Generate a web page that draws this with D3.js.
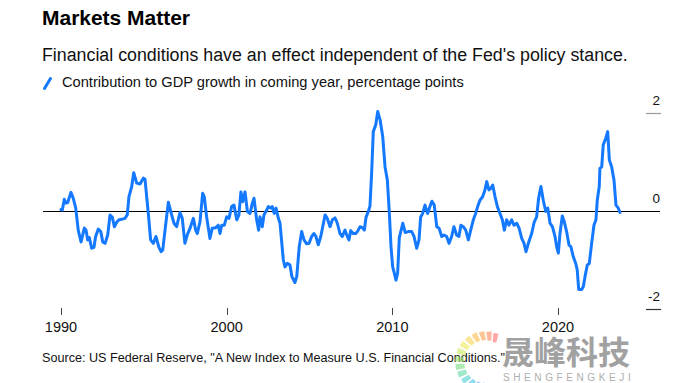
<!DOCTYPE html>
<html>
<head>
<meta charset="utf-8">
<script src="https://cdn.jsdelivr.net/npm/d3@7"></script>
<style>
  html, body { margin: 0; padding: 0; background: #fff; }
  svg { display: block; }
  text { font-family: "Liberation Sans", Arial, Helvetica, sans-serif; }
</style>
</head>
<body>
<svg id="chart" width="694" height="383"></svg>
<script>
// ---- Data ----
const years = [
  1990.00,1990.08,1990.20,1990.30,1990.40,1990.60,1990.74,1990.89,1991.04,1991.21,
  1991.41,1991.51,1991.61,1991.71,1991.85,1991.99,1992.09,1992.25,1992.40,1992.52,
  1992.66,1992.82,1992.96,1993.10,1993.22,1993.38,1993.50,1993.66,1993.86,1994.00,
  1994.10,1994.27,1994.39,1994.57,1994.77,1994.97,1995.07,1995.27,1995.41,1995.57,
  1995.73,1995.90,1996.04,1996.14,1996.28,1996.48,1996.68,1996.82,1996.98,1997.18,
  1997.32,1997.48,1997.62,1997.79,1997.99,1998.13,1998.23,1998.39,1998.55,1998.65,
  1998.79,1998.99,1999.13,1999.34,1999.49,1999.60,1999.70,1999.86,2000.00,2000.14,
  2000.30,2000.44,2000.61,2000.74,2000.86,2000.97,2001.11,2001.25,2001.41,2001.55,
  2001.65,2001.81,2001.93,2002.01,2002.15,2002.25,2002.42,2002.51,2002.66,2002.75,
  2002.87,2002.98,2003.12,2003.22,2003.42,2003.52,2003.66,2003.82,2003.94,2004.12,
  2004.23,2004.38,2004.53,2004.67,2004.83,2004.97,2005.13,2005.27,2005.39,2005.53,
  2005.68,2005.80,2005.94,2006.07,2006.24,2006.38,2006.54,2006.68,2006.84,2006.98,
  2007.14,2007.25,2007.38,2007.49,2007.64,2007.79,2007.91,2008.05,2008.19,2008.31,
  2008.41,2008.55,2008.65,2008.75,2008.85,2009.00,2009.12,2009.26,2009.42,2009.56,
  2009.70,2009.82,2009.92,2010.02,2010.12,2010.22,2010.32,2010.42,2010.63,2010.78,
  2010.96,2011.17,2011.31,2011.47,2011.61,2011.71,2011.83,2011.97,2012.13,2012.27,
  2012.39,2012.53,2012.68,2012.82,2012.98,2013.12,2013.28,2013.42,2013.58,2013.72,
  2013.88,2014.02,2014.14,2014.28,2014.43,2014.59,2014.73,2014.89,2015.03,2015.15,
  2015.29,2015.45,2015.59,2015.70,2015.83,2015.94,2016.06,2016.20,2016.34,2016.50,
  2016.64,2016.76,2016.90,2017.04,2017.20,2017.34,2017.51,2017.65,2017.81,2017.95,
  2018.07,2018.21,2018.41,2018.57,2018.71,2018.83,2018.97,2019.11,2019.26,2019.38,
  2019.52,2019.66,2019.82,2019.92,2020.02,2020.12,2020.26,2020.38,2020.52,2020.66,
  2020.78,2020.92,2021.07,2021.16,2021.25,2021.43,2021.53,2021.63,2021.77,2021.89,
  2022.03,2022.17,2022.29,2022.37,2022.49,2022.53,2022.64,2022.73,2022.88,2023.00,
  2023.10,2023.24,2023.38,2023.50,2023.64,2023.74
];
const values = [
  0.03,0.02,0.24,0.16,0.17,0.38,0.26,0.06,-0.39,-0.63,
  -0.35,-0.39,-0.59,-0.54,-0.76,-0.74,-0.52,-0.37,-0.42,-0.63,
  -0.66,-0.49,-0.08,-0.13,-0.32,-0.22,-0.18,-0.17,-0.15,-0.08,
  0.29,0.50,0.78,0.57,0.55,0.67,0.65,-0.05,-0.59,-0.66,
  -0.52,-0.73,-0.83,-0.80,-0.39,0.18,-0.08,-0.25,-0.32,-0.03,
  -0.15,-0.66,-0.49,-0.35,-0.15,-0.39,-0.46,-0.22,0.36,0.29,
  -0.12,-0.56,-0.35,-0.34,-0.29,-0.46,-0.29,-0.29,-0.12,-0.15,
  0.09,0.12,-0.18,-0.08,0.39,0.19,0.39,-0.01,-0.05,0.16,
  0.26,-0.18,-0.39,-0.12,-0.32,-0.08,0.02,0.09,0.06,0.09,
  -0.05,0.06,-0.15,-0.25,-1.00,-1.14,-1.07,-1.10,-1.34,-1.46,
  -1.34,-0.73,-0.42,-0.59,-0.67,-0.66,-0.52,-0.46,-0.52,-0.69,
  -0.52,-0.32,-0.08,-0.15,-0.32,-0.18,-0.14,-0.25,-0.46,-0.52,
  -0.39,-0.49,-0.59,-0.40,-0.46,-0.46,-0.41,-0.32,-0.34,-0.39,
  -0.13,-0.01,0.10,0.77,1.62,1.76,2.03,1.86,1.52,0.90,
  0.63,-0.05,-0.73,-1.14,-1.27,-1.41,-1.27,-0.55,-0.25,-0.44,
  -0.42,-0.42,-0.52,-0.76,-0.59,-0.12,-0.05,0.12,-0.05,0.09,
  0.20,0.12,-0.32,-0.35,-0.52,-0.49,-0.52,-0.66,-0.52,-0.32,
  -0.49,-0.52,-0.29,-0.32,-0.39,-0.59,-0.39,-0.18,-0.05,0.09,
  0.22,0.29,0.43,0.60,0.43,0.46,0.53,0.29,0.09,-0.05,
  -0.18,-0.39,-0.18,-0.29,-0.18,-0.29,-0.25,-0.35,-0.56,-0.66,
  -0.83,-0.66,-0.46,-0.22,-0.12,0.26,0.50,0.22,-0.01,0.06,
  -0.25,-0.32,-0.52,-0.73,-0.86,-0.46,-0.10,-0.22,-0.42,-0.69,
  -0.73,-0.93,-1.07,-1.20,-1.60,-1.60,-1.54,-1.34,-1.10,-1.07,
  -0.66,-0.29,-0.18,0.22,0.50,0.87,0.90,1.35,1.48,1.62,
  1.04,0.90,0.63,0.12,0.06,-0.03
];
const xTickYears = [1990, 2000, 2010, 2020];
const xTickLabels = ["1990", "2000", "2010", "2020"];
const yTickValues = [2, 0, -2];
const yTickLabels = ["2", "0", "-2"];

const titleText = "Markets Matter";
const subtitleText = "Financial conditions have an effect independent of the Fed's policy stance.";
const legendText = "Contribution to GDP growth in coming year, percentage points";
const sourceText = "Source: US Federal Reserve, \"A New Index to Measure U.S. Financial Conditions.\"";

// ---- Drawing ----
const svg = d3.select("#chart");
const BLUE = "#1479ff";

const x = d3.scaleLinear().domain([1990, 2020]).range([61, 558]);
const y = d3.scaleLinear().domain([-2, 2]).range([309, 113]);

function fitText(sel, targetWidth, startSize) {
  let size = startSize;
  sel.style("font-size", size + "px");
  for (let i = 0; i < 4; i++) {
    const w = sel.node().getComputedTextLength();
    if (w > 0) { size = size * targetWidth / w; sel.style("font-size", size + "px"); }
  }
}

// Header
const title = svg.append("text").attr("x", 42).attr("y", 25)
  .attr("font-weight", "bold").attr("fill", "#000").text(titleText);
fitText(title, 148, 20);

const sub = svg.append("text").attr("x", 42).attr("y", 61)
  .attr("fill", "#111").text(subtitleText);
fitText(sub, 586, 17);

svg.append("line").attr("x1", 44.5).attr("y1", 88.5).attr("x2", 50.5).attr("y2", 78.5)
  .attr("stroke", BLUE).attr("stroke-width", 3).attr("stroke-linecap", "round");
const leg = svg.append("text").attr("x", 62).attr("y", 87)
  .attr("fill", "#111").text(legendText);
fitText(leg, 402, 13.5);

// Zero line
svg.append("line").attr("x1", 43).attr("x2", 660)
  .attr("y1", Math.round(y(0)) + 0.5).attr("y2", Math.round(y(0)) + 0.5)
  .attr("stroke", "#000").attr("stroke-width", 1);

// Right axis ticks & labels
const yt = svg.append("g");
yTickValues.forEach((v, i) => {
  if (v !== 0) {
    yt.append("line").attr("x1", 646).attr("x2", 661)
      .attr("y1", Math.round(y(v)) + 0.5).attr("y2", Math.round(y(v)) + 0.5)
      .attr("stroke", v > 0 ? "#999" : "#333").attr("stroke-width", 1.2);
  }
  yt.append("text").attr("x", 660).attr("y", y(v) - 8)
    .attr("text-anchor", "end").style("font-size", "13.5px").attr("fill", "#111")
    .text(yTickLabels[i]);
});

// Bottom axis ticks & labels
const xt = svg.append("g");
xTickYears.forEach((yr, i) => {
  xt.append("line").attr("x1", Math.round(x(yr)) + 0.5).attr("x2", Math.round(x(yr)) + 0.5)
    .attr("y1", 308).attr("y2", 315).attr("stroke", "#444").attr("stroke-width", 1);
  xt.append("text").attr("x", x(yr)).attr("y", 332)
    .attr("text-anchor", "middle").style("font-size", "14.5px").attr("fill", "#111")
    .text(xTickLabels[i]);
});

// Series line
const pts = years.map((d, i) => [d, values[i]]);
const line = d3.line().x(d => x(d[0])).y(d => y(d[1])).curve(d3.curveLinear);
svg.append("path").datum(pts).attr("d", line)
  .attr("fill", "none").attr("stroke", BLUE).attr("stroke-width", 3)
  .attr("stroke-linejoin", "round").attr("stroke-linecap", "round");

// Source
const src = svg.append("text").attr("x", 42).attr("y", 362)
  .attr("fill", "#111").text(sourceText);
fitText(src, 463, 12.5);

// Watermark (overlay present in the reference)
const wm = svg.append("g").attr("opacity", 0.8);
const arcGen = d3.arc();
const colorAt = d3.scaleLinear()
  .domain([0, 0.2, 0.4, 0.6, 0.8, 1])
  .range(["#ff6b6b", "#ffb347", "#eef05a", "#7fe07a", "#3fd0e0", "#3c8dff"]);
const nSeg = 14;
d3.range(nSeg).forEach(i => {
  const t = i / (nSeg - 1);
  const a0 = 0.25 - t * 3.0;
  const a1 = a0 - 0.17;
  const r = 26 + 6 * Math.sin(t * Math.PI);
  wm.append("path")
    .attr("transform", "translate(491,363)")
    .attr("d", arcGen({ innerRadius: r - 5, outerRadius: r + 4, startAngle: a1, endAngle: a0 }))
    .attr("fill", colorAt(t)).attr("opacity", 0.75);
});
wm.append("text").attr("x", 502).attr("y", 364)
  .style("font-family", "'Noto Sans CJK SC', sans-serif").style("font-weight", "bold")
  .style("font-size", "32px").attr("fill", "#8a8a8a").text("晟峰科技");
wm.append("text").attr("x", 503).attr("y", 381)
  .style("font-size", "10px").style("letter-spacing", "3.6px").attr("fill", "#9a9a9a")
  .text("SHENGFENGKEJI");
</script>
</body>
</html>
